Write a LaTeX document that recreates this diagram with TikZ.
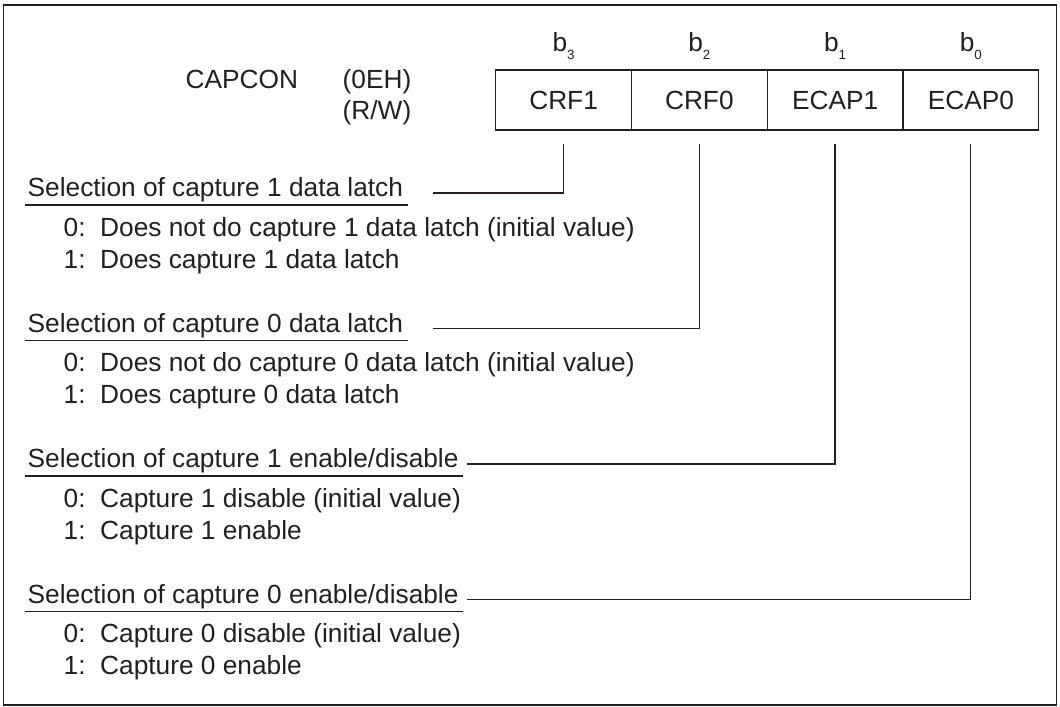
\documentclass[tikz,border=0pt]{standalone}
\usepackage{fontspec}
\setmainfont{Liberation Sans}
\usetikzlibrary{positioning}
\definecolor{ink}{RGB}{35,31,32}
\newcommand\bitname[1]{b\raisebox{-2pt}{\fontsize{3.8}{4}\selectfont #1}}

\begin{document}
\begin{tikzpicture}[x=0.01cm,y=-0.01cm,font=\fontsize{7.47}{9.1}\selectfont,color=ink,
  cell/.style={draw,line width=0.35pt,minimum width=1.3575cm,minimum height=0.6cm,inner sep=0pt},
  txt/.style={inner sep=0pt,anchor=base west},
  lead/.style={line width=0.35pt}]
  \useasboundingbox (0,0) rectangle (1060,707);
  \draw[line width=0.5pt] (3.5,5) rectangle (1056.5,705);
  % register
  \node[txt] (reg) at (185,89) {CAPCON};
  \node[txt] (adr) at (342,89) {(0EH)};
  \node[txt] (rw) at (342,120) {(R/W)};
  \foreach \f/\b [count=\i from 0] in {CRF1/3,CRF0/2,ECAP1/1,ECAP0/0} {
    \node[cell] (c\b) at (563.6+135.75*\i,100) {\f};
    \node[inner sep=0pt,anchor=base] (b\b) at (563.6+135.75*\i,52) {\bitname{\b}};
  }
  % bit descriptions
  \node[txt] (sel3) at (27,197) {Selection of capture 1 data latch};
  \node[txt] (i3a) at (63,236.5) {0:~~Does not do capture 1 data latch (initial value)};
  \node[txt] (i3b) at (63,268.5) {1:~~Does capture 1 data latch};
  \node[txt] (sel2) at (27,332.5) {Selection of capture 0 data latch};
  \node[txt] (i2a) at (63,372) {0:~~Does not do capture 0 data latch (initial value)};
  \node[txt] (i2b) at (63,404) {1:~~Does capture 0 data latch};
  \node[txt] (sel1) at (27,468) {Selection of capture 1 enable/disable};
  \node[txt] (i1a) at (63,507.5) {0:~~Capture 1 disable (initial value)};
  \node[txt] (i1b) at (63,539.5) {1:~~Capture 1 enable};
  \node[txt] (sel0) at (27,603.5) {Selection of capture 0 enable/disable};
  \node[txt] (i0a) at (63,643) {0:~~Capture 0 disable (initial value)};
  \node[txt] (i0b) at (63,675) {1:~~Capture 0 enable};
  % underlines and leads to the bits
  \foreach \s/\g in {3/29,2/29,1/8,0/8} {
    \draw[lead] ([shift={(-2,8)}]sel\s.base west) -- ([shift={(4,8)}]sel\s.base east);
    \draw[lead] (sel\s.base east) ++(\g,-4) -| ([shift={(0,13)}]c\s.south);
  }
\end{tikzpicture}
\end{document}
